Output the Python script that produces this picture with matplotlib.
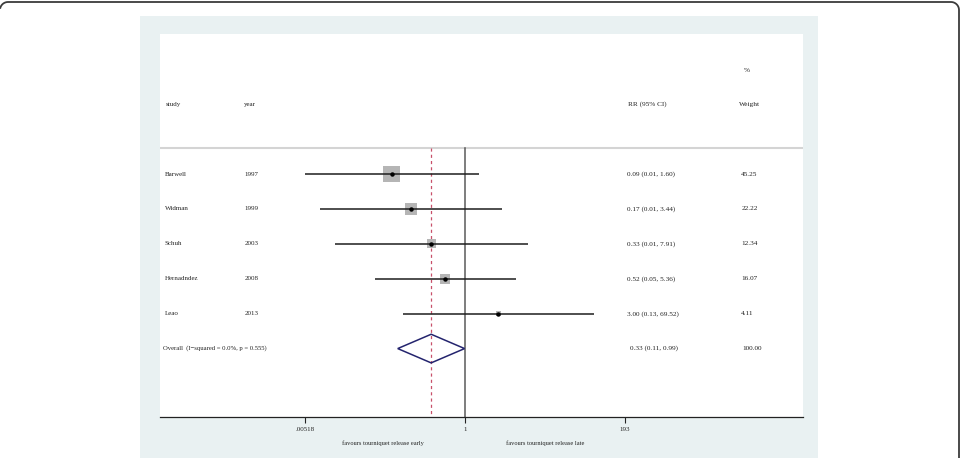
import matplotlib
matplotlib.use("Agg")
import matplotlib.pyplot as plt
import numpy as np
from matplotlib.patches import Rectangle, Polygon

# ---------------- data ----------------
studies = ["Barwell", "Widman", "Schuh", "Hernadndez", "Leao"]
years = ["1997", "1999", "2003", "2008", "2013"]
rr = [0.09, 0.17, 0.33, 0.52, 3.00]
ci_low = [0.00518, 0.0086, 0.014, 0.052, 0.13]
ci_high = [1.60, 3.44, 7.91, 5.36, 69.52]
rr_labels = ["0.09 (0.01, 1.60)", "0.17 (0.01, 3.44)", "0.33 (0.01, 7.91)",
             "0.52 (0.05, 5.36)", "3.00 (0.13, 69.52)"]
weights = [45.25, 22.22, 12.34, 16.07, 4.11]
weight_labels = ["45.25", "22.22", "12.34", "16.07", "4.11"]

overall_text = "Overall  (I\u2212squared = 0.0%, p = 0.555)"
overall_rr = 0.33
overall_low = 0.11
overall_high = 0.99
overall_rr_label = "0.33 (0.11, 0.99)"
overall_weight_label = "100.00"

xticks = [0.00518, 1, 193]
xtick_labels = [".00518", "1", "193"]
favours = ["favours tourniquet release early", "favours tourniquet release late"]
favours_pos = [0.0676, 13.8]

# ---------------- figure ----------------
W, H = 963, 458
fig = plt.figure(figsize=(W / 100, H / 100), dpi=100)
plt.rcParams['font.family'] = ['Liberation Serif', 'DejaVu Serif']

bg = fig.add_axes([0, 0, 1, 1], zorder=0)
bg.set_xlim(0, W)
bg.set_ylim(H, 0)
bg.axis('off')
bg.add_patch(Rectangle((140, 16), 678, 460, facecolor='#e9f1f2', edgecolor='none'))

# outer rounded frame (top and right edges visible)
r = 8
t_left = np.linspace(np.pi * 1.05, np.pi * 1.5, 12)
t_right = np.linspace(np.pi * 1.5, np.pi * 2.0, 12)
cxl, cyl = 0 + r, 2 + r
cxr, cyr = 959 - r, 2 + r
xs = np.concatenate([cxl + r * np.cos(t_left), cxr + r * np.cos(t_right), [959]])
ys = np.concatenate([cyl + r * np.sin(t_left), cyr + r * np.sin(t_right), [470]])
bg.plot(xs, ys, color='#3c3c3c', lw=1.3, solid_capstyle='butt', clip_on=False)

left, right, top, bottom = 160, 803, 34, 417
ax = fig.add_axes([left / W, 1 - bottom / H, (right - left) / W, (bottom - top) / H], zorder=1)
ax.set_facecolor('white')
ax.set_xscale('log')
ax.set_xlim(10 ** -4.351, 10 ** 4.825)
ylo, yhi = 6.96, -4.01
ax.set_ylim(ylo, yhi)

for s in ['left', 'right', 'top']:
    ax.spines[s].set_visible(False)
ax.spines['bottom'].set_color('#222222')
ax.spines['bottom'].set_linewidth(0.9)
ax.set_yticks([])
ax.set_xticks(xticks)
ax.set_xticklabels(xtick_labels)
ax.xaxis.set_minor_locator(matplotlib.ticker.NullLocator())
ax.tick_params(axis='x', direction='out', length=4, width=0.8, color='#222222',
               labelsize=5, pad=3, labelcolor='#222222')

txt_col = '#222222'
header_y = -2.0
line_y = -0.745
rows = np.arange(len(studies))

# header
tr = ax.get_yaxis_transform()
ax.text(0.009, header_y, "study", transform=tr, fontsize=5, va='center', ha='left', color=txt_col)
ax.text(0.13, header_y, "year", transform=tr, fontsize=5, va='center', ha='left', color=txt_col)
ax.text(0.728, header_y, "RR (95% CI)", transform=tr, fontsize=5.2, va='center', ha='left', color=txt_col)
ax.text(0.912, header_y - 0.97, "%", transform=tr, fontsize=5.2, va='center', ha='center', color=txt_col)
ax.text(0.917, header_y, "Weight", transform=tr, fontsize=5.2, va='center', ha='center', color=txt_col)

ax.axhline(line_y, color='#d4d4d4', lw=1.5, zorder=1)

# reference lines
ax.plot([1, 1], [line_y, ylo], color='#5a5a5a', lw=1.1, zorder=2)
ax.plot([overall_rr, overall_rr], [line_y, ylo], color='#c8506a', lw=0.9,
        ls=(0, (2.5, 2.5)), zorder=2)

# studies
ax.scatter(rr, rows, marker='s', s=[3.19 * w for w in weights], color='#b5b5b5',
           edgecolors='none', zorder=3)
ax.hlines(rows, ci_low, ci_high, color='#1e1e1e', lw=1.1, zorder=4)
ax.plot(rr, rows, 'o', color='black', ms=2.2, zorder=5)

for i in rows:
    ax.text(0.007, i, studies[i], transform=tr, fontsize=5, va='center', ha='left', color=txt_col)
    ax.text(0.131, i, years[i], transform=tr, fontsize=5, va='center', ha='left', color=txt_col)
    ax.text(0.727, i, rr_labels[i], transform=tr, fontsize=5.2, va='center', ha='left', color=txt_col)
    ax.text(0.904, i, weight_labels[i], transform=tr, fontsize=5.2, va='center', ha='left', color=txt_col)

# overall
oy = len(studies)
dh = 0.41
diamond = Polygon([[overall_low, oy], [overall_rr, oy - dh], [overall_high, oy], [overall_rr, oy + dh]],
                  closed=True, fill=False, edgecolor='#24246e', lw=1.1, zorder=5)
ax.add_patch(diamond)
ax.text(0.004, oy, overall_text, transform=tr, fontsize=4.8, va='center', ha='left', color=txt_col)
ax.text(0.731, oy, overall_rr_label, transform=tr, fontsize=5.2, va='center', ha='left', color=txt_col)
ax.text(0.906, oy, overall_weight_label, transform=tr, fontsize=5.2, va='center', ha='left', color=txt_col)

# favours labels
for lab, xp in zip(favours, favours_pos):
    ax.annotate(lab, xy=(xp, 0), xycoords=('data', 'axes fraction'),
                xytext=(0, -18.7), textcoords='offset points',
                ha='center', va='center', fontsize=4.6, color=txt_col)

fig.savefig("out.png", dpi=100)
